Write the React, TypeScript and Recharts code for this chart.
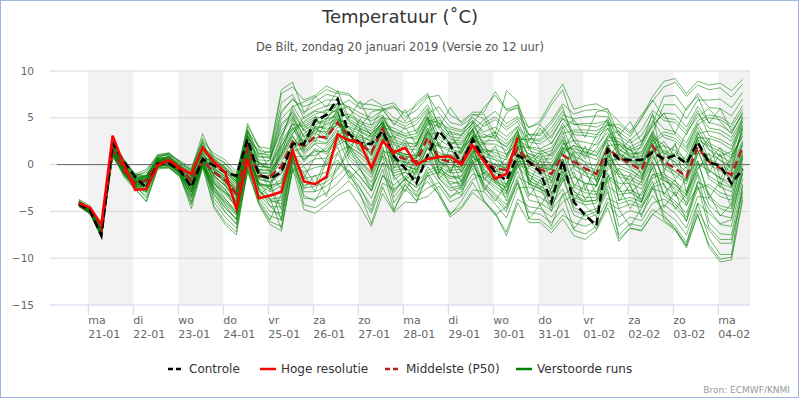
import React from "react";
import { LineChart, Line, XAxis, YAxis, ReferenceArea, ReferenceLine } from "recharts";

// time axis: hours relative to ma 21-01 00:00, one value every 6 hours
const FIRST_HOUR = -5; // zo 20-01 19:00
const STEP_HOURS = 6;
const X_MIN = -20.4;
const X_MAX = 352.9;
const ZERO_LINE_START = -16.7;

const dayNames = ["ma", "di", "wo", "do", "vr", "za", "zo", "ma", "di", "wo", "do", "vr", "za", "zo", "ma"];
const dayDates = ["21-01", "22-01", "23-01", "24-01", "25-01", "26-01", "27-01", "28-01", "29-01", "30-01", "31-01", "01-02", "02-02", "03-02", "04-02"];
const shadedDays = [0, 2, 4, 6, 8, 10, 12, 14];
const yTicks = [-15, -10, -5, 0, 5, 10];
const gridValues = [-10, -5, 0, 5, 10];

const controle = [
  -4.2, -4.9, -7.6, 2.3, 0.3, -1.3, -2.5, 0.1, 0.1, -0.6, -2.4, 0.6, -0.1, -0.8, -1.2, 2.7,
  -1.1, -1.5, -0.8, 2.2, 2.2, 4.7, 5.3, 7.0, 3.3, 2.3, 2.2, 3.6, 0.9, -0.4, -2.0, 1.0,
  3.6, 2.1, 0.1, 2.7, 0.6, -0.8, -1.7, 1.0, 0.3, -0.8, -4.0, 0.4, -4.0, -5.4, -6.5, 1.6,
  0.6, 0.5, 0.5, 1.3, 0.6, 1.0, 0.1, 2.4, 0.2, -0.1, -2.0, -0.5,
];
const hogeResolutie = [
  -4.1, -4.6, -6.4, 3.1, 0.0, -2.7, -2.6, -0.1, 0.5, -0.4, -1.0, 1.8, 0.3, -0.8, -4.7, 0.6,
  -3.6, -3.3, -2.9, 1.5, -1.8, -2.1, -1.3, 3.2, 2.6, 2.3, -0.4, 2.5, 1.3, 1.8, 0.0, 0.6,
  0.8, 0.9, 0.0, 2.0, 0.4, -1.5, -1.0, 2.9,
];
const middelste = [
  -4.2, -5.0, -7.3, 1.6, -0.6, -2.0, -1.7, 0.1, 0.4, -0.6, -1.7, 0.5, -0.8, -1.7, -3.1, 1.8,
  -1.2, -1.3, -0.2, 2.4, 2.0, 3.0, 2.9, 4.5, 3.0, 2.2, 1.3, 3.8, 1.0, 0.6, 0.3, 2.9,
  0.6, 0.3, 0.3, 2.5, 0.3, -0.4, -0.6, 1.7, 0.3, -0.5, -1.0, 1.0, 0.3, -0.4, -1.0, 1.7,
  0.8, 0.1, -0.6, 2.0, 0.3, -0.4, -1.3, 1.9, 0.3, -0.4, -1.1, 1.9,
];

// verstoorde runs (perturbed members)
const m01 = [-4.1,-4.9,-7.0,1.9, 0.0,-1.5,-1.5,0.5, 0.5,-0.5,-1.5,0.8, -1.6,-2.7,-4.0,1.3, -2.5,-3.4,-3.0,1.1, -0.1,0.6,0.7,2.1, 2.7,2.4,1.1,3.6, 2.7,2.2,2.3,4.4, 4.1,3.0,2.8,4.1, 2.9,3.1,2.2,3.6, 0.7,0.0,-0.2,1.8, -1.3,-2.0,-2.2,0.4, -2.9,-2.7,-3.3,-1.0, -1.7,-2.5,-3.6,-0.4, 0.5,-0.2,-1.4,2.3];
const m02 = [-4.3,-5.1,-7.4,1.3, -0.8,-2.2,-2.5,-0.1, -0.1,-1.0,-3.3,0.1, -3.2,-4.6,-5.9,0.2, -3.8,-5.5,-5.9,-0.2, -2.2,-2.0,-1.5,-0.4, 1.2,0.1,-1.1,1.6, 0.4,0.2,-0.2,2.1, 2.0,1.4,1.3,3.1, 2.9,3.5,2.6,4.0, 2.8,2.7,3.9,5.7, 3.2,3.1,2.9,3.9, 2.0,1.2,1.2,3.6, 1.2,0.6,-0.4,2.6, 2.0,1.4,0.7,3.4];
const m03 = [-3.9,-4.7,-6.8,2.4, 0.2,-1.3,-1.4,0.6, 0.7,-0.3,-1.2,1.4, 0.1,-0.7,-2.1,3.0, 1.2,1.0,5.8,6.9, 6.2,6.7,7.5,7.2, 5.9,5.1,4.7,5.3, 3.3,2.8,3.0,4.9, 2.0,1.7,1.3,3.1, 0.6,-0.1,-0.4,1.9, -1.1,-1.7,-2.3,-0.4, -2.9,-3.5,-3.5,-0.9, -4.7,-4.2,-4.6,-2.6, -3.0,-3.9,-5.2,-1.9, -2.4,-3.4,-3.8,0.2];
const m04 = [-4.4,-5.2,-7.6,1.0, -0.9,-2.3,-2.7,-0.1, 0.2,-0.8,-2.3,0.3, -0.6,-1.5,-2.9,2.1, -0.2,-0.3,2.4,4.3, 4.1,4.9,5.2,5.9, 6.2,5.5,5.0,5.8, 6.1,5.5,6.3,7.4, 5.5,4.0,3.7,4.7, 3.5,4.0,3.0,4.1, 1.5,1.1,1.5,3.3, 3.7,3.7,3.6,4.3, 3.9,3.0,5.0,7.3, 8.9,9.2,7.6,8.9, 8.5,8.7,7.9,9.1];
const m05 = [-4.1,-5.0,-7.1,1.7, -0.4,-1.8,-1.6,0.2, 0.6,-0.4,-1.4,1.1, -0.1,-1.0,-2.4,2.7, -0.9,-1.0,0.7,3.0, 1.3,2.3,2.2,3.7, 0.6,-0.6,-1.9,0.9, -3.5,-1.9,-2.9,-1.8, -3.2,-5.2,-4.5,-2.7, -2.9,-4.2,-5.7,-2.5, -2.4,-2.9,-3.6,-1.8, -1.3,-2.0,-2.2,0.4, 0.6,-0.2,-0.9,1.7, 2.0,1.5,0.5,3.3, 3.6,3.3,2.5,4.8];
const m06 = [-4.0,-4.8,-6.9,2.1, -0.7,-2.1,-2.0,0.0, 0.1,-0.8,-2.7,0.3, -4.0,-5.6,-6.8,-0.3, -4.2,-6.1,-6.6,-0.5, -2.9,-2.9,-2.3,-1.2, 0.0,-1.3,-2.8,0.2, -0.9,-0.5,-1.1,0.4, -1.1,-2.1,-1.8,0.2, -2.5,-3.6,-5.0,-1.9, -5.1,-5.3,-6.2,-4.7, -7.0,-7.4,-6.6,-4.2, -5.6,-4.9,-5.3,-3.3, -5.0,-5.9,-7.5,-4.1, -5.2,-6.4,-6.6,-1.5];
const m07 = [-4.2,-5.1,-7.3,1.5, -0.2,-1.7,-1.5,0.4, 0.8,-0.2,-1.1,1.7, 0.6,-0.2,-1.6,3.5, 1.9,1.7,8.0,8.8, 5.6,6.3,6.9,6.9, 4.9,4.1,3.6,4.8, 1.6,1.1,1.0,3.4, 0.2,-0.3,-0.2,1.9, -1.1,-2.0,-2.8,-0.1, -0.4,-1.1,-1.7,0.3, 1.4,1.0,0.5,2.6, 2.4,1.5,1.8,4.2, 5.5,5.4,4.0,6.2, 4.5,4.2,3.4,5.6];
const m08 = [-4.1,-4.9,-7.1,1.8, -0.5,-1.9,-1.8,0.2, 0.3,-0.7,-2.0,0.4, -2.0,-3.2,-4.5,1.0, -1.9,-2.4,-1.6,1.8, 2.5,3.6,3.5,4.8, 4.4,3.6,3.0,4.6, 2.1,1.7,1.6,3.9, 0.9,0.5,0.0,2.2, -0.6,-1.5,-2.1,0.5, -3.1,-3.5,-4.3,-2.6, -5.4,-5.9,-5.3,-2.9, -7.5,-6.3,-6.6,-4.8, -5.6,-6.6,-8.3,-4.9, -7.0,-8.4,-8.4,-2.7];
const m09 = [-4.3,-5.1,-7.4,1.2, -1.0,-2.4,-3.0,-0.2, -0.3,-1.2,-3.9,-0.1, -2.8,-4.2,-5.4,0.5, -2.2,-2.9,-2.3,1.4, 1.8,2.8,3.1,4.3, 3.9,3.2,2.4,4.3, 3.9,3.3,3.7,5.4, 6.2,4.5,4.2,5.0, 4.1,4.8,3.7,4.6, 1.9,1.7,2.3,4.1, 0.9,0.3,-0.2,2.1, -0.1,-0.6,-1.3,1.2, -1.7,-2.2,-3.3,0.0, -0.6,-1.4,-2.0,1.3];
const m10 = [-4.0,-4.7,-6.8,2.2, 0.4,-1.2,-1.3,0.8, 1.1,0.1,-0.7,2.3, -0.3,-1.2,-2.6,2.4, -1.0,-1.5,-0.6,2.2, 0.6,1.4,1.4,2.9, 0.0,-1.3,-2.8,0.2, -4.1,-2.2,-3.4,-2.5, -1.9,-3.4,-2.9,-1.0, -1.4,-2.3,-3.2,0.2, 0.0,-0.3,-0.6,1.4, 2.0,1.7,1.3,3.0, 2.8,1.9,2.5,4.7, 2.9,2.5,1.4,4.0, 1.6,0.9,0.2,3.8];
const m11 = [-4.3,-4.9,-7.2,1.5, -0.7,-2.2,-2.2,0.0, 0.5,-0.5,-1.5,0.8, 0.3,-0.4,-1.8,3.3, 0.5,0.4,4.1,5.6, 3.6,4.5,4.6,5.5, 3.4,2.7,1.9,4.1, 0.1,-0.1,-0.5,1.8, 1.3,0.8,0.8,2.8, 2.2,2.2,1.5,3.1, 2.4,2.2,3.1,4.9, 4.3,4.4,4.4,4.7, 3.1,2.3,3.1,5.2, 3.8,3.5,2.3,4.7, 5.3,5.1,4.3,6.3];
const m12 = [-4.4,-5.2,-7.5,1.1, -0.6,-2.0,-2.2,0.1, 0.0,-0.9,-3.0,0.2, -3.6,-5.1,-6.3,0.0, -2.9,-4.0,-3.8,0.8, 0.9,1.0,1.7,3.2, 3.6,2.9,2.6,4.0, 3.6,3.0,2.7,5.1, 2.7,1.9,1.8,3.4, 0.9,0.5,0.1,2.2, -1.7,-2.3,-3.0,-1.1, -4.6,-5.1,-4.7,-2.3, -3.2,-3.0,-3.7,-1.4, -1.0,-1.8,-2.9,0.4, -3.3,-4.4,-4.7,-0.4];
const m13 = [-4.0,-4.8,-7.0,2.0, 0.5,-1.0,-1.2,0.9, 1.0,0.0,-0.9,2.0, -0.5,-1.9,-3.4,1.6, -0.5,-0.6,1.5,3.7, 4.6,5.4,5.8,6.2, 6.9,6.0,5.9,5.8, 4.4,3.8,4.3,5.9, 3.0,2.3,2.1,3.7, 1.2,0.8,-0.2,2.5, 1.1,0.6,0.6,2.6, 0.0,-0.8,-1.3,1.4, -1.0,-1.3,-1.9,0.5, 1.5,0.9,0.0,2.9, 2.8,2.4,1.6,4.1];
const m14 = [-4.3,-5.0,-7.3,1.4, -0.3,-1.9,-1.7,0.3, 0.3,-0.7,-1.9,0.6, -1.2,-2.2,-3.6,1.5, -2.0,-2.6,-1.9,1.6, -1.5,-1.2,-0.8,0.5, -1.2,-2.6,-4.4,-1.2, -2.2,-1.2,-2.0,-0.6, -0.2,-0.9,-0.8,1.3, 1.6,1.3,0.8,2.7, 2.7,2.5,3.5,5.3, 4.9,5.1,5.2,5.1, 3.5,2.6,3.7,5.8, 4.7,4.5,3.2,5.5, 3.9,3.7,2.9,5.0];
const m15 = [-3.8,-4.6,-6.7,2.6, -0.1,-1.6,-1.4,0.5, 0.1,-0.9,-2.5,0.4, 0.0,-1.0,-2.3,2.2, 0.2,0.0,3.2,5.0, 3.0,4.0,4.0,5.2, 2.3,1.5,0.5,3.1, -1.2,-0.8,-1.5,0.8, -1.5,-2.8,-2.4,-0.4, -3.8,-5.3,-7.2,-3.7, -4.5,-4.7,-5.6,-4.0, -3.2,-3.9,-3.8,-1.3, -0.4,-0.9,-1.6,0.9, -1.4,-2.8,-4.0,-0.8, -4.3,-5.4,-5.7,-1.0];
const m16 = [-4.5,-5.3,-7.7,0.8, -1.0,-2.5,-3.3,-0.3, -0.4,-1.2,-4.3,-0.1, -4.4,-6.1,-7.2,-0.5, -3.2,-4.5,-4.5,0.5, -4.3,-4.6,-3.8,-2.8, -1.7,-3.3,-5.2,-2.0, -2.6,-1.6,-2.4,-0.9, -0.5,-1.3,-1.2,1.0, 0.0,-0.7,-1.0,1.4, -0.8,-1.4,-2.0,0.0, -3.8,-4.3,-4.1,-1.6, -6.6,-5.6,-6.0,-4.1, -3.7,-4.5,-6.0,-2.6, -2.1,-3.0,-3.4,0.6];
const m17 = [-4.2,-4.9,-7.0,1.7, 0.1,-1.4,-1.6,0.6, 0.8,-0.2,-1.3,1.4, 0.4,-0.5,-1.9,3.6, 0.1,0.0,2.0,3.9, 2.3,3.4,2.6,4.7, 1.7,0.8,-0.3,2.4, 1.3,0.8,0.6,3.2, 3.4,2.4,2.3,3.7, 4.8,5.7,4.4,5.1, 4.0,4.4,6.4,8.0, 4.3,4.2,4.0,4.6, 1.6,0.8,0.6,3.1, 0.1,-0.7,-1.7,1.6, -1.5,-2.4,-2.9,0.8];
const m18 = [-4.3,-5.1,-7.2,1.4, -0.9,-2.3,-2.3,-0.2, 0.6,-0.4,-1.0,1.2, -0.4,-1.3,-2.7,2.5, 0.8,0.7,4.9,6.2, 6.7,7.2,8.0,7.6, 7.4,6.5,6.4,6.1, 5.0,4.4,5.0,6.4, 4.4,3.3,3.1,4.4, 1.9,1.0,0.5,3.0, -1.4,-2.0,-2.6,-0.7, -3.5,-4.0,-3.8,-1.2, -2.0,-2.0,-2.6,-0.3, 0.9,0.3,-0.8,2.3, 0.6,0.0,-0.8,2.4];
const m19 = [-4.0,-4.8,-6.9,2.2, -0.4,-1.8,-1.9,0.0, -0.2,-1.1,-3.6,0.0, -2.4,-3.7,-4.9,0.8, -1.5,-1.8,-0.9,2.1, 2.7,3.7,4.3,4.9, 3.2,1.9,1.6,3.5, -0.3,-0.1,-0.6,1.2, -1.4,-2.5,-2.2,-0.1, -2.0,-3.1,-4.3,-1.3, -2.0,-2.6,-3.4,-1.5, -0.2,-0.6,-0.8,2.0, 2.2,1.5,0.9,3.4, 6.4,6.4,4.9,6.9, 6.9,7.0,6.1,7.7];
const m20 = [-4.4,-5.2,-7.5,1.1, 0.3,-1.2,-1.3,0.7, 0.5,-0.3,-1.6,0.9, -1.7,-2.9,-4.2,1.2, -3.5,-5.0,-5.2,0.2, -0.8,-0.3,-0.1,1.3, 2.0,1.2,0.2,2.8, 2.4,2.0,1.9,4.2, 4.8,3.5,3.2,4.4, 6.1,7.4,5.8,6.0, 3.2,3.1,4.4,6.2, 2.4,1.4,1.0,2.7, 1.1,0.4,-0.2,2.3, -2.3,-3.2,-4.4,-1.1, -6.1,-7.4,-7.5,-2.1];
const m21 = [-4.2,-4.9,-7.1,1.5, -0.8,-2.4,-2.9,-0.2, 0.0,-1.0,-2.1,0.2, -1.0,-1.6,-2.8,2.0, -0.8,-0.9,1.1,3.4, 4.4,5.1,4.9,6.1, 4.7,3.9,3.3,4.4, 0.6,0.3,0.1,2.6, -0.7,-1.5,-1.3,0.8, -0.2,-0.9,-1.3,1.1, 0.9,0.3,0.2,2.1, 2.6,2.4,2.1,3.4, 1.3,0.5,0.3,2.8, -0.4,-1.1,-2.1,1.2, 1.1,0.5,-0.2,2.6];
const m22 = [-3.9,-4.6,-6.6,2.3, -0.5,-1.7,-1.8,0.3, 0.9,-0.1,-0.8,1.9, 0.8,0.1,-1.4,3.8, 0.9,0.8,3.6,5.2, 2.2,3.9,3.2,5.0, 1.5,0.4,-0.8,1.9, -2.8,-1.5,-2.5,-1.2, -0.8,-1.8,-2.1,0.5, 0.6,0.0,-0.3,2.0, 1.8,1.4,1.8,3.6, -0.5,-1.2,-1.6,1.0, -3.8,-3.5,-4.0,-1.8, -5.9,-6.9,-8.7,-5.3, -8.8,-10.4,-10.2,-3.8];
const m23 = [-4.4,-5.2,-7.6,0.9, -0.8,-2.1,-2.4,-0.1, 0.2,-0.6,-2.2,0.3, -0.9,-1.8,-3.3,1.9, -1.4,-1.2,0.3,2.7, 0.3,1.7,1.1,2.6, 5.2,4.4,3.9,5.0, 4.7,4.1,4.7,6.1, 3.8,2.7,2.5,3.8, 1.3,1.6,1.1,2.4, -0.1,-0.8,-1.4,0.6, -2.1,-2.7,-2.9,-0.3, 1.2,0.5,0.0,2.5, 3.5,3.2,1.9,4.4, 2.3,1.7,1.0,3.0];
const m24 = [-4.1,-4.9,-7.1,1.9, 0.3,-1.1,-1.2,0.7, 1.2,0.2,-0.6,2.6, -0.6,-1.5,-2.9,2.0, -2.8,-3.7,-3.5,0.9, -2.5,-2.3,-1.9,-0.6, 1.9,1.1,0.0,2.6, 1.3,0.9,0.7,3.0, 0.3,0.0,-0.3,2.0, -1.5,-2.6,-3.5,-0.7, -3.8,-4.1,-4.9,-3.3, -2.4,-3.0,-3.2,-0.6, 0.9,0.2,-0.3,2.2, 3.2,2.8,1.7,4.3, 5.0,4.8,4.0,5.9];
const m25 = [-4.3,-5.0,-7.3,1.6, -0.9,-2.5,-2.8,-0.1, -0.1,-0.9,-2.7,0.1, -1.9,-3.0,-3.7,1.6, -0.6,-0.7,1.2,3.3, 5.1,5.8,6.3,6.5, 4.6,3.8,3.3,4.5, 1.5,1.1,0.9,3.5, -0.4,-1.2,-1.6,0.5, -2.2,-3.3,-4.7,-1.6, -5.8,-5.9,-6.9,-5.4, -6.2,-6.6,-6.0,-3.6, -4.2,-3.8,-4.4,-2.2, -1.3,-2.1,-3.2,0.1, 0.0,-0.7,-1.5,1.5];
const m26 = [-4.2,-5.0,-7.0,1.9, -0.3,-1.6,-1.6,0.4, 0.5,-0.5,-1.6,0.6, -2.5,-3.9,-5.1,0.8, -2.1,-2.2,-2.0,1.6, 3.3,4.2,4.9,5.2, 5.4,4.6,4.2,5.1, 3.0,2.5,2.0,4.7, 4.5,3.8,3.5,4.7, 3.2,2.8,1.9,3.3, 0.6,-0.1,-0.4,1.7, 1.7,1.3,0.9,2.9, 2.5,1.6,2.2,4.4, 7.3,7.4,5.8,7.6, 6.1,6.0,5.2,7.0];
const m27 = [-4.4,-5.1,-7.5,1.3, -0.7,-2.0,-1.8,0.1, 0.8,-0.2,-1.2,1.6, -1.3,-2.2,-3.9,1.4, -2.7,-3.8,-4.2,1.0, -3.6,-3.7,-3.0,-2.0, -0.6,-1.9,-3.6,-0.5, -4.8,-2.6,-3.8,-3.4, -2.3,-4.0,-3.4,-1.6, -0.9,-1.8,-2.5,0.2, 1.2,0.8,1.1,3.0, 0.5,-0.1,-0.6,1.9, -1.3,-1.6,-2.2,0.2, -3.3,-4.2,-5.6,-2.2, -6.7,-8.0,-8.0,-3.0];
const m28 = [-3.9,-4.7,-6.9,2.3, -0.7,-2.3,-2.6,0.0, 0.2,-0.7,-2.9,0.2, 0.2,-0.8,-2.0,2.9, 1.5,1.3,6.6,7.5, 4.9,5.7,5.5,6.5, 2.5,2.6,0.9,3.4, -1.6,-0.8,-1.5,0.2, 1.0,1.1,0.5,3.1, 2.5,2.6,1.9,3.5, -2.1,-2.6,-3.2,-1.4, -4.9,-5.5,-5.0,-2.6, -7.9,-6.8,-7.0,-5.3, -4.3,-5.2,-6.8,-3.4, -3.6,-4.7,-5.1,-0.9];
const m29 = [-4.1,-5.0,-7.3,1.8, -0.5,-2.1,-1.5,0.2, 0.9,-0.1,-1.0,2.1, 0.6,-0.3,-1.5,3.1, -0.2,-0.3,1.9,4.0, 1.5,2.6,2.3,4.0, 4.1,3.5,2.8,4.7, 3.5,3.1,3.3,5.2, 0.5,-0.6,-0.5,1.6, -0.8,-1.7,-2.4,0.3, 0.4,-0.3,-0.5,1.5, 3.5,3.4,3.2,4.2, 4.3,3.3,4.9,6.9, 5.0,4.8,3.6,5.8, 3.1,2.7,2.0,4.5];
const m30 = [-4.2,-5.1,-7.4,1.2, -0.1,-1.4,-1.3,0.6, 0.0,-1.0,-3.5,0.0, -2.7,-4.0,-5.3,0.5, -1.6,-1.9,-1.0,2.0, 3.9,4.7,4.3,5.8, 0.9,-0.2,-1.4,1.3, -0.6,-0.4,-0.9,0.9, 0.6,0.2,0.5,2.6, 4.4,5.1,4.0,4.9, 3.2,3.3,4.7,6.5, 5.4,5.8,5.9,5.6, 1.7,0.9,0.8,3.2, -0.1,-0.8,-1.8,1.5, -1.2,-2.0,-2.5,1.1];
const m31 = [-4.0,-4.9,-7.2,1.4, -0.2,-1.6,-2.9,0.6, 0.9,-0.4,-2.6,0.9, -1.9,-3.6,-5.2,0.9, -0.5,-2.8,1.9,4.4, 2.1,5.2,3.3,6.0, 1.2,3.9,-0.4,2.7, 3.1,0.2,2.2,5.0, -1.0,1.9,-0.8,1.3, 2.4,-0.9,0.8,3.8, -2.2,0.6,-3.1,-0.5, 1.3,-2.7,-0.1,3.1, 3.6,0.4,2.1,5.5, -0.8,2.3,-3.0,1.2, 2.8,-1.6,0.9,4.6];
const m32 = [-4.4,-5.3,-7.8,1.0, -1.1,-2.6,-3.9,-0.4, -0.2,-1.4,-4.1,-0.2, -3.1,-5.0,-6.4,-0.8, -4.0,-5.9,-3.1,1.3, -1.4,0.8,2.0,3.3, 1.9,-0.5,-2.4,1.0, -1.2,-2.9,-0.6,1.8, 0.1,-2.2,-3.3,0.4, -2.8,-1.0,-3.9,-0.2, -1.5,-4.4,-2.5,0.6, -3.9,-2.0,-5.1,-1.4, -2.4,-4.7,-3.0,-0.3, -4.6,-2.9,-6.1,-1.8, -3.0,-5.5,-4.2,0.9];
const m33 = [-4.1,-5.0,-7.1,2.0, 0.6,-1.1,-0.9,1.1, 1.2,0.3,-0.6,2.8, 0.9,0.2,-1.1,4.1, 2.0,0.6,5.5,7.1, 5.4,7.3,6.1,7.9, 5.0,6.8,4.2,5.9, 6.3,4.6,6.6,7.6, 3.9,6.1,4.4,5.4, 4.9,2.8,5.5,6.3, 1.7,3.9,2.2,4.4, 2.6,0.8,3.1,4.9, 1.3,2.7,-0.1,2.9, 2.1,-0.3,1.0,3.6, 0.4,1.8,-0.7,3.9];
const m34 = [-4.2,-5.1,-7.4,1.7, -0.4,-2.1,-2.2,0.3, 0.5,-0.8,-2.0,0.7, -0.4,-1.3,-2.6,2.3, -0.9,-2.0,-4.8,0.4, -2.6,-1.1,-3.4,0.2, -0.7,-2.5,-4.9,-1.1, -3.0,-1.4,-3.3,-0.2, -1.9,-3.6,-2.4,0.9, -0.4,-1.8,-3.1,0.8, -1.6,-2.6,-1.2,1.9, 0.8,-0.9,-2.4,1.0, -0.6,-1.9,-0.5,2.6, 1.4,0.2,-1.6,3.0, 1.6,0.4,-0.4,4.2];
const m35 = [-4.3,-5.0,-7.3,1.5, -0.8,-2.3,-1.6,0.0, 0.0,-1.0,-2.9,0.1, -2.1,-3.0,-4.4,1.2, -1.9,-3.6,-6.9,-0.6, -0.2,-2.1,0.7,3.5, 4.1,2.0,3.3,5.1, 2.8,4.0,2.1,4.5, 5.1,3.0,1.6,4.6, 2.1,3.4,1.0,3.2, -0.3,1.2,-1.9,1.4, -2.4,-0.6,-3.3,0.2, -1.2,-3.1,-1.8,1.5, 0.8,-1.5,-0.2,2.4, -0.9,1.2,-2.3,2.1];
const m36 = [-4.0,-4.7,-6.9,2.2, 0.1,-1.5,-1.2,0.7, 0.8,-0.2,-1.2,1.6, 0.2,-0.7,-1.8,3.1, 0.1,-0.4,3.0,5.9, 3.7,2.4,4.8,6.6, 6.2,4.0,5.6,6.0, 4.2,5.9,3.4,5.7, 2.0,3.6,1.1,3.9, 0.4,2.0,-0.9,2.6, 1.9,-0.4,1.3,3.9, 4.8,2.9,5.6,6.0, 3.1,4.6,2.4,4.1, 5.5,3.3,6.1,7.3, 4.4,6.0,3.6,5.3];
const m37 = [-4.2,-4.9,-7.5,1.3, -1.2,-2.2,-3.6,-0.3, 0.2,-1.1,-3.3,0.0, -2.3,-4.3,-5.9,0.3, -2.6,-4.4,-5.7,0.9, -3.3,-3.9,-1.6,1.2, -0.9,-3.1,-6.3,-2.4, -5.0,-2.1,-3.9,-0.8, -2.9,-5.4,-3.9,-1.9, -3.9,-5.4,-4.5,-2.0, -5.8,-4.3,-6.6,-3.1, -6.9,-5.2,-6.9,-4.0, -4.8,-6.6,-4.7,-2.4, -5.4,-6.9,-8.6,-4.2, -7.8,-9.6,-9.6,-2.2];
const m38 = [-4.1,-4.8,-7.0,1.8, -0.5,-1.7,-2.4,0.4, 0.6,-0.3,-1.4,1.2, -1.1,-2.3,-4.0,1.6, -2.2,-2.3,2.6,6.3, 4.3,3.1,5.9,5.6, 2.6,4.9,3.0,4.2, 0.3,2.4,-0.9,1.9, -1.5,-0.4,-2.7,0.1, 1.0,-1.9,-0.3,2.3, 3.3,1.6,0.9,2.7, -0.2,2.0,-1.9,2.4, -2.7,-1.0,-3.9,-1.1, -0.8,-3.4,-1.4,0.4, -3.6,-1.8,-4.5,-0.2];
const m39 = [-3.7,-4.4,-6.5,2.8, 0.3,-1.0,-0.5,1.0, 1.1,0.4,-0.3,2.4, 1.2,0.5,-0.8,3.6, 1.1,1.4,7.6,8.3, 6.9,7.4,8.4,7.8, 7.6,6.1,7.0,6.3, 6.6,5.1,5.8,7.2, 7.4,5.3,4.6,5.6, 5.6,7.8,5.9,6.4, 3.9,4.7,6.8,8.6, 5.9,6.3,6.5,5.8, 4.6,3.5,5.3,6.8, 8.3,8.8,7.3,8.5, 8.0,8.2,7.2,8.6];
const m40 = [-4.3,-5.2,-7.7,1.2, -0.9,-2.6,-4.0,-0.5, -0.3,-1.3,-4.7,-0.3, -4.6,-6.4,-7.5,-0.6, -4.3,-6.4,-7.1,-0.4, -4.8,-5.2,-4.3,-3.3, -2.7,-4.5,-6.6,-3.1, -5.1,-4.0,-4.1,-1.1, -3.3,-5.6,-4.7,-3.0, -4.0,-5.1,-7.6,-4.1, -6.2,-6.2,-7.3,-5.8, -7.6,-8.0,-7.0,-4.6, -8.2,-6.8,-7.1,-5.3, -6.1,-7.0,-8.9,-5.4, -8.5,-10.1,-9.9,-3.4];
const m41 = [-4.2,-5.1,-7.2,1.6, -0.6,-1.8,-1.9,0.2, 0.3,-0.5,-1.8,0.6, -0.9,-1.5,-3.0,2.0, -1.4,-1.1,0.9,3.1, 1.1,2.2,1.3,3.0, 2.1,0.3,-0.9,2.7, 0.7,-1.6,0.9,3.6, 1.9,0.6,-0.8,1.5, -1.0,0.2,-2.2,0.6, 0.9,-1.1,-0.4,2.3, 1.5,0.2,-1.7,0.8, 2.2,1.0,1.4,3.4, 1.0,2.1,0.1,2.8, -0.6,-1.5,-2.4,1.0];
const m42 = [-4.4,-5.0,-7.4,1.1, -1.3,-2.7,-2.0,-0.3, 0.1,-0.9,-2.4,0.2, -1.4,-2.6,-4.8,0.6, 0.3,-0.8,-2.6,1.9, 0.5,1.6,0.0,2.3, 3.3,1.4,2.6,4.6, -0.4,1.2,-1.6,1.0, 2.4,-0.8,1.5,3.6, -1.7,-0.2,-2.9,0.1, -3.4,-1.6,-4.6,-1.7, -0.8,-3.8,-2.2,1.7, -3.9,-2.1,-5.6,-2.4, -2.0,-4.8,-3.1,-0.5, 1.2,-2.4,0.6,3.1];
const m43 = [-3.9,-4.6,-6.8,2.5, 0.4,-1.2,-0.7,0.9, 1.3,0.2,-0.5,3.3, 0.5,-0.4,-1.6,4.4, 1.7,-0.8,1.1,4.8, 1.5,4.0,2.7,5.6, 1.8,3.2,1.0,4.4, 2.4,-0.1,1.3,3.5, 4.4,2.0,3.1,5.3, 5.4,3.3,7.9,6.8, 2.5,4.3,2.8,5.0, 3.1,1.1,2.3,4.5, 0.4,1.9,-1.2,1.5, 2.5,0.8,3.4,5.1, 6.0,4.6,3.3,5.5];
const m44 = [-4.2,-5.0,-7.3,1.8, -0.3,-1.8,-1.1,0.5, 0.6,-0.9,-3.0,0.4, -2.8,-4.6,-5.8,-0.2, -3.4,-2.1,-6.0,0.6, -1.0,-2.9,0.4,1.9, -1.5,-0.4,-2.8,1.4, 1.2,-1.8,-0.2,2.4, -0.8,0.8,-1.9,1.2, -2.3,-3.9,-2.1,0.9, -1.0,-2.4,-5.0,-0.8, -2.8,-4.4,-5.6,-1.8, -0.6,-2.3,-4.1,0.3, -3.2,-1.6,-4.3,-2.4, -4.8,-6.3,-5.9,-0.6];
const m45 = [-4.1,-4.9,-7.1,1.7, -0.5,-1.9,-1.7,0.1, 0.4,-0.7,-1.9,0.5, -0.6,-2.1,-3.4,1.9, -0.7,0.6,4.4,5.4, 2.9,4.1,3.8,4.2, 3.4,1.6,2.5,3.1, 1.4,2.7,0.8,3.9, 0.4,-0.9,1.8,2.9, 1.6,0.5,-0.7,2.0, 0.5,1.4,-0.2,1.1, 2.1,0.6,1.7,3.9, 1.1,-0.4,-1.5,1.7, -0.1,1.3,0.2,3.3, 2.1,0.9,1.4,5.1];

const verstoordeRuns = [
  m01, m02, m03, m04, m05, m06, m07, m08, m09, m10, m11, m12, m13, m14, m15,
  m16, m17, m18, m19, m20, m21, m22, m23, m24, m25, m26, m27, m28, m29, m30,
  m31, m32, m33, m34, m35, m36, m37, m38, m39, m40, m41, m42, m43, m44, m45,
];

const data = controle.map((c, i) => {
  const row: Record<string, number | null> = {
    h: FIRST_HOUR + i * STEP_HOURS,
    controle: c,
    middelste: middelste[i],
    hres: i < hogeResolutie.length ? hogeResolutie[i] : null,
  };
  verstoordeRuns.forEach((run, k) => {
    row["p" + k] = run[i];
  });
  return row;
});

const FONT = "'DejaVu Sans', sans-serif";
const fmt = (v: number) => (v < 0 ? "\u2212" + Math.abs(v) : String(v));

const LeftTick = (props: any) => (
  <text x={34} y={props.y} dy="0.35em" textAnchor="end" fontSize={10.5} fill="#666" fontFamily={FONT}>
    {fmt(props.payload.value)}
  </text>
);

const RightTick = (props: any) => (
  <text x={766} y={props.y} dy="0.35em" textAnchor="start" fontSize={10.5} fill="#666" fontFamily={FONT}>
    {fmt(props.payload.value)}
  </text>
);

const DayTick = (props: any) => {
  const d = Math.round(props.payload.value / 24);
  return (
    <g fontSize={11} fill="#666" fontFamily={FONT}>
      <text x={props.x} y={324} textAnchor="start">{dayNames[d]}</text>
      <text x={props.x} y={338} textAnchor="start">{dayDates[d]}</text>
    </g>
  );
};

const legendItems = [
  { label: "Controle", color: "#000", dash: "5 3", x: 168 },
  { label: "Hoge resolutie", color: "#ff0000", dash: undefined, x: 260 },
  { label: "Middelste (P50)", color: "#b22222", dash: "5 3", x: 385 },
  { label: "Verstoorde runs", color: "#008000", dash: undefined, x: 516 },
];

export default function App() {
  return (
    <div style={{ position: "relative", width: 800, height: 400, background: "#fff", fontFamily: FONT, overflow: "hidden" }}>
      <style>{"body{margin:0}"}</style>
      <div style={{ position: "absolute", top: 6, left: 0, width: 800, textAlign: "center", fontSize: 18, lineHeight: "22px", color: "#333" }}>
        Temperatuur (˚C)
      </div>
      <div style={{ position: "absolute", top: 40, left: 0, width: 800, textAlign: "center", fontSize: 11.5, lineHeight: "14px", color: "#555" }}>
        De Bilt, zondag 20 januari 2019 (Versie zo 12 uur)
      </div>

      <div style={{ position: "absolute", left: 0, top: 0 }}>
        <LineChart width={800} height={400} data={data} margin={{ top: 71, right: 0, bottom: 45, left: 0 }}>
          <XAxis
            type="number"
            dataKey="h"
            domain={[X_MIN, X_MAX]}
            ticks={dayNames.map((_, i) => i * 24)}
            interval={0}
            allowDataOverflow
            height={50}
            tickSize={10}
            stroke="#ccd6eb"
            tick={<DayTick />}
          />
          <YAxis yAxisId="t" domain={[-15, 10]} ticks={yTicks} width={50} axisLine={false} tickLine={false} tick={<LeftTick />} allowDataOverflow />
          <YAxis yAxisId="r" orientation="right" domain={[-15, 10]} ticks={yTicks} width={50} axisLine={false} tickLine={false} tick={<RightTick />} />

          {shadedDays.map((d) => (
            <ReferenceArea key={"band" + d} yAxisId="t" x1={d * 24} x2={Math.min(d * 24 + 24, X_MAX)} fill="#f2f2f2" fillOpacity={1} stroke="none" />
          ))}
          {gridValues.map((v) => (
            <ReferenceLine key={"grid" + v} yAxisId="t" y={v} stroke="#d8d8d8" strokeWidth={1} />
          ))}

          {verstoordeRuns.map((_, k) => (
            <Line
              key={"p" + k}
              yAxisId="t"
              type="linear"
              dataKey={"p" + k}
              stroke="#008000"
              strokeOpacity={0.55}
              strokeWidth={1}
              dot={false}
              activeDot={false}
              isAnimationActive={false}
            />
          ))}
          <ReferenceLine
            yAxisId="t"
            segment={[{ x: ZERO_LINE_START, y: 0 }, { x: X_MAX, y: 0 }]}
            stroke="#666"
            strokeWidth={1}
          />
          <Line yAxisId="t" type="linear" dataKey="middelste" stroke="#b22222" strokeWidth={2.5} strokeDasharray="8 4" dot={false} activeDot={false} isAnimationActive={false} />
          <Line yAxisId="t" type="linear" dataKey="controle" stroke="#000" strokeWidth={2.5} strokeDasharray="8 4" dot={false} activeDot={false} isAnimationActive={false} />
          <Line yAxisId="t" type="linear" dataKey="hres" stroke="#ff0000" strokeWidth={2.5} dot={false} activeDot={false} isAnimationActive={false} />
        </LineChart>
      </div>

      {legendItems.map((it) => (
        <div key={it.label} style={{ position: "absolute", left: it.x, top: 361, height: 16, display: "flex", alignItems: "center", fontSize: 12, color: "#333", whiteSpace: "nowrap" }}>
          <svg width={16} height={16} style={{ marginRight: 5 }}>
            <line x1={0} y1={8} x2={16} y2={8} stroke={it.color} strokeWidth={2.5} strokeDasharray={it.dash} />
          </svg>
          {it.label}
        </div>
      ))}

      <div style={{ position: "absolute", right: 10, top: 385, fontSize: 9, color: "#999", whiteSpace: "nowrap" }}>Bron: ECMWF/KNMI</div>
      <div style={{ position: "absolute", left: 0, top: 0, width: 799, height: 398, boxSizing: "border-box", border: "1px solid #9db8e0", pointerEvents: "none" }} />
    </div>
  );
}
